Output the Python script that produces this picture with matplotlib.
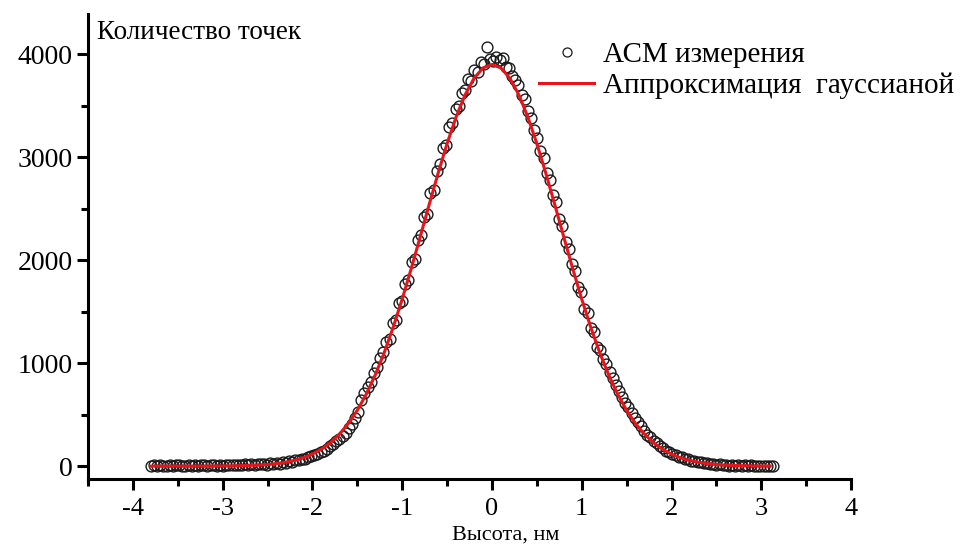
import numpy as np
import matplotlib
matplotlib.use("Agg")
import matplotlib.pyplot as plt
from matplotlib.lines import Line2D

plt.rcParams["font.family"] = ["Liberation Serif", "DejaVu Serif"]
plt.rcParams["axes.unicode_minus"] = False

# ---------- данные гистограммы высот (АСМ) ----------
h_start = -3.80     # центр первого бина, нм
h_step = 0.035      # ширина бина, нм
counts = [
    5, 8, 3, 10, 6, 2, 9, 4, 7, 12, 3, 6, 10, 5, 8, 2, 11, 7, 4, 9,
    13, 6, 10, 3, 12, 8, 15, 9, 14, 7, 16, 11, 18, 13, 20,
    17, 24, 12, 27, 19, 33, 24, 41, 30, 52, 40, 63, 55, 68, 72,
    85, 96, 108, 122, 137, 150, 170, 192, 215, 240,
    262, 296, 325, 370, 412, 470, 525, 640, 710, 770,
    820, 905, 960, 1050, 1110, 1205, 1230, 1390, 1415, 1580,
    1600, 1770, 1810, 1985, 2010, 2200, 2240, 2420, 2450, 2650,
    2680, 2870, 2930, 3090, 3120, 3290, 3330, 3470, 3500, 3620,
    3650, 3760, 3740, 3850, 3830, 3920, 3900, 4070, 3950, 3930,
    3975, 3940, 3960, 3880, 3870, 3790, 3750, 3700, 3600, 3560,
    3450, 3380, 3260, 3190, 3060, 2990, 2850, 2780, 2630, 2560,
    2400, 2330, 2180, 2110, 1960, 1890, 1740, 1690, 1530, 1490,
    1340, 1300, 1160, 1130, 1040, 990, 910, 860, 790, 730,
    670, 610, 570, 515, 470, 430, 385, 345, 305, 285,
    245, 225, 195, 180, 150, 140, 120, 112, 90, 85,
    70, 66, 50, 48, 36, 38, 26, 28, 18, 22,
    13, 17, 9, 14, 6, 11, 4, 9, 3, 8,
    2, 7, 1, 6, 3, 5, 2, 4, 1,
]
height = np.round(h_start + h_step * np.arange(len(counts)), 3)

# ---------- аппроксимация гауссианой (значения кривой) ----------
fit_x = np.round(np.arange(-3.8, 3.15, 0.1), 2)
fit_y = [
    0, 0, 0, 0, 0, 0, 0, 1, 1, 2,
    4, 7, 10, 16, 25, 38, 56, 81, 117, 164,
    227, 309, 413, 542, 699, 886, 1103, 1349, 1622, 1916,
    2225, 2538, 2844, 3132, 3389, 3604, 3766, 3866, 3900, 3866,
    3766, 3604, 3389, 3132, 2844, 2538, 2225, 1916, 1622, 1349,
    1103, 886, 699, 542, 413, 309, 227, 164, 117, 81,
    56, 38, 25, 16, 10, 7, 4, 2, 1, 1,
]

fig = plt.figure(figsize=(9.79, 5.47), dpi=100)
ax = fig.add_axes([0.0899, 0.1243, 0.7794, 0.8501])

ax.plot(height, counts, linestyle="none", marker="o", ms=7.8,
        mfc="none", mec="#1a1a1a", mew=1.0, zorder=2)
ax.plot(fit_x, fit_y, color="#e8141a", lw=2.2, zorder=3)

ax.set_xlim(-4.5, 4)
ax.set_ylim(-125, 4390)
ax.set_xticks(np.arange(-4, 5, 1))
ax.set_xticks(np.arange(-4.5, 4.01, 0.5), minor=True)
ax.set_yticks(np.arange(0, 4001, 1000))
ax.set_yticks(np.arange(500, 4001, 1000), minor=True)

for side in ("top", "right"):
    ax.spines[side].set_visible(False)
for side in ("left", "bottom"):
    ax.spines[side].set_linewidth(2.2)

ax.tick_params(axis="both", which="major", direction="out", length=8, width=2.2)
ax.tick_params(axis="both", which="minor", direction="out", length=5, width=2.2)
ax.tick_params(axis="x", which="major", pad=6, labelsize=19)
ax.tick_params(axis="y", which="major", pad=3, labelsize=20)

ax.set_xlabel("Высота, нм", fontsize=16)
ax.xaxis.set_label_coords(0.548, -0.1)
fig.text(97 / 979, 1 - 39 / 547, "Количество точек", fontsize=19.5,
         va="baseline", ha="left")

handles = [
    Line2D([], [], linestyle="none", marker="o", ms=6.5, mfc="none",
           mec="#1a1a1a", mew=0.9),
    Line2D([], [], color="#e8141a", lw=2.2),
]
ax.legend(handles, ["АСМ измерения", "Аппроксимация  гауссианой"],
          loc="upper left", bbox_to_anchor=(539 / 979, 1 - 42 / 547),
          bbox_transform=fig.transFigure, frameon=False, fontsize=21,
          handlelength=1.9, handletextpad=0.3, borderpad=0,
          borderaxespad=0, labelspacing=0.15)

fig.savefig("out.png", dpi=100)
